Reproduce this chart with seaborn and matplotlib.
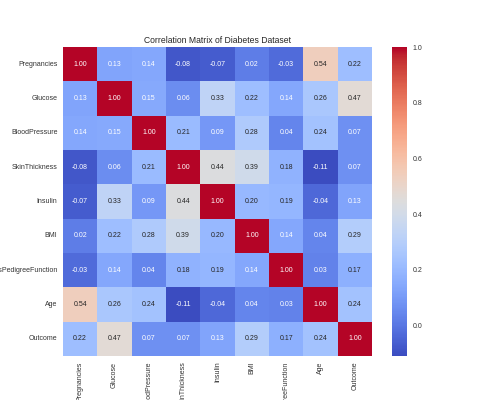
import numpy as np
import pandas as pd
import matplotlib
matplotlib.use("Agg")
import matplotlib.pyplot as plt
import seaborn as sns

features = ["Pregnancies", "Glucose", "BloodPressure", "SkinThickness", "Insulin",
            "BMI", "DiabetesPedigreeFunction", "Age", "Outcome"]

# upper triangle, row by row
pregnancies_r = [0.13, 0.14, -0.08, -0.07, 0.02, -0.03, 0.54, 0.22]
glucose_r = [0.15, 0.06, 0.33, 0.22, 0.14, 0.26, 0.47]
bloodpressure_r = [0.21, 0.09, 0.28, 0.04, 0.24, 0.07]
skinthickness_r = [0.44, 0.39, 0.18, -0.11, 0.07]
insulin_r = [0.20, 0.19, -0.04, 0.13]
bmi_r = [0.14, 0.04, 0.29]
dpf_r = [0.03, 0.17]
age_r = [0.24]

upper = [pregnancies_r, glucose_r, bloodpressure_r, skinthickness_r,
         insulin_r, bmi_r, dpf_r, age_r]

n = len(features)
corr = np.eye(n)
for i, row in enumerate(upper):
    for k, v in enumerate(row):
        j = i + 1 + k
        corr[i, j] = v
        corr[j, i] = v
corr_df = pd.DataFrame(corr, index=features, columns=features)

sns.set_style("whitegrid")
plt.rcParams["font.family"] = ["Liberation Sans", "DejaVu Sans"]

fig = plt.figure(figsize=(5, 4), dpi=100)
ax = fig.add_axes([0.126, 0.11, 0.618, 0.7725])
cax = fig.add_axes([0.784, 0.11, 0.03, 0.7725])

sns.heatmap(corr_df, annot=True, fmt=".2f", cmap="coolwarm", ax=ax, cbar_ax=cax,
            annot_kws={"fontsize": 5})

ax.set_title("Correlation Matrix of Diabetes Dataset", fontsize=6.2, pad=3)
ax.tick_params(axis="both", labelsize=5, length=0, pad=4, labelcolor="#333333")
ax.set_xticklabels(ax.get_xticklabels(), rotation=90)
ax.set_yticklabels(ax.get_yticklabels(), rotation=0)
cax.tick_params(labelsize=5, length=0, pad=4, labelcolor="#333333")
cax.set_yticks([0.0, 0.2, 0.4, 0.6, 0.8, 1.0])

fig.savefig("out.png", dpi=100)
